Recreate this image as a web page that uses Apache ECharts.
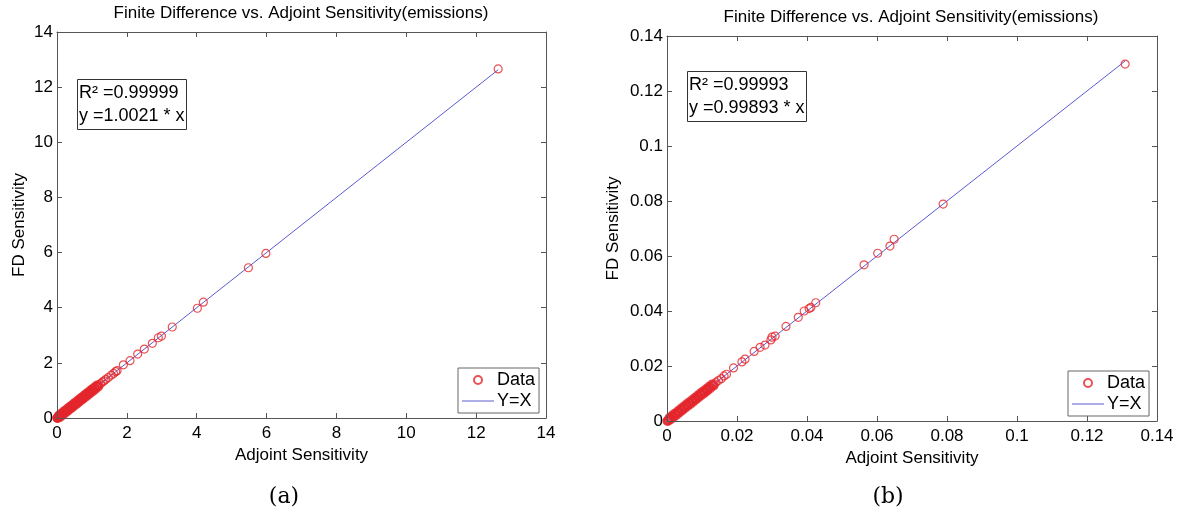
<!DOCTYPE html>
<html>
<head>
<meta charset="utf-8">
<script src="https://cdn.jsdelivr.net/npm/echarts@6/dist/echarts.min.js"></script>
<style>html,body{margin:0;padding:0;background:#fff;}#c{width:1178px;height:515px;}</style>
</head>
<body>
<div id="c"></div>
<script>
// ---- data ----
var titleText = 'Finite Difference vs. Adjoint Sensitivity(emissions)';
var xName = 'Adjoint Sensitivity';
var yName = 'FD Sensitivity';
var captions = ['(a)', '(b)'];
var fitTextA = 'R² =0.99999\ny =1.0021 * x';
var fitTextB = 'R² =0.99993\ny =0.99893 * x';

var adjA = [0, 0.005, 0.01, 0.015, 0.02, 0.03, 0.04, 0.05, 0.06, 0.07, 0.08, 0.09, 0.10, 0.12, 0.14, 0.16, 0.18, 0.20, 0.22, 0.25, 0.28, 0.30, 0.33, 0.36, 0.40, 0.43, 0.46, 0.50, 0.53, 0.56, 0.60, 0.63, 0.66, 0.70, 0.73, 0.76, 0.80, 0.83, 0.86, 0.90, 0.93, 0.96, 1.00, 1.03, 1.06, 1.10, 1.13, 1.16, 1.20, 1.25, 1.30, 1.35, 1.40, 1.47, 1.55, 1.62, 1.68, 1.72, 1.90, 2.09, 2.31, 2.50, 2.73, 2.90, 2.99, 3.30, 4.02, 4.19, 5.48, 5.98, 12.63];
var fdA  = [0, 0.004, 0.012, 0.013, 0.021, 0.028, 0.042, 0.048, 0.061, 0.068, 0.082, 0.088, 0.101, 0.118, 0.142, 0.158, 0.181, 0.198, 0.223, 0.248, 0.281, 0.298, 0.332, 0.358, 0.402, 0.428, 0.462, 0.498, 0.532, 0.558, 0.602, 0.628, 0.662, 0.698, 0.732, 0.758, 0.802, 0.828, 0.862, 0.898, 0.932, 0.958, 1.002, 1.028, 1.062, 1.098, 1.132, 1.158, 1.202, 1.248, 1.302, 1.348, 1.402, 1.468, 1.552, 1.618, 1.682, 1.718, 1.93, 2.08, 2.32, 2.50, 2.71, 2.91, 2.97, 3.30, 3.98, 4.20, 5.45, 5.97, 12.66];
// extra points in the dense cluster near the origin (slightly off the line)
var adjA2 = [0.02, 0.05, 0.08, 0.11, 0.14, 0.17, 0.2, 0.23, 0.26, 0.29, 0.32, 0.35, 0.38, 0.41, 0.44, 0.47, 0.5, 0.53, 0.56, 0.59, 0.62, 0.65, 0.68, 0.71, 0.74, 0.77, 0.8, 0.83, 0.86, 0.89, 0.92, 0.95, 0.98, 1.01, 1.04, 1.07, 1.1, 1.14, 1.18];
var fdA2  = [0.0, 0.09, 0.03, 0.15, 0.09, 0.21, 0.15, 0.27, 0.21, 0.33, 0.27, 0.39, 0.33, 0.45, 0.39, 0.51, 0.45, 0.57, 0.51, 0.63, 0.57, 0.69, 0.63, 0.75, 0.69, 0.81, 0.75, 0.87, 0.81, 0.93, 0.87, 0.99, 0.93, 1.05, 0.99, 1.11, 1.05, 1.18, 1.13];
var lineA = [0, 12.63];

var adjB = [0, 0.0002, 0.0004, 0.0006, 0.0008, 0.001, 0.0013, 0.0016, 0.002, 0.0024, 0.0028, 0.0032, 0.0036, 0.004, 0.0044, 0.0048, 0.0052, 0.0056, 0.006, 0.0064, 0.0068, 0.0072, 0.0076, 0.008, 0.0084, 0.0088, 0.0092, 0.0096, 0.010, 0.0104, 0.0108, 0.0112, 0.0116, 0.012, 0.0125, 0.013, 0.0135, 0.014, 0.0147, 0.0155, 0.0163, 0.017, 0.0190, 0.0214, 0.0223, 0.0249, 0.0266, 0.0280, 0.0297, 0.0300, 0.0309, 0.0340, 0.0375, 0.0392, 0.0406, 0.0411, 0.0425, 0.0563, 0.0602, 0.0637, 0.0649, 0.0789, 0.1309];
var fdB  = [0, 0.0003, 0.0004, 0.0005, 0.0009, 0.001, 0.0012, 0.0017, 0.002, 0.0023, 0.0029, 0.0032, 0.0035, 0.0041, 0.0044, 0.0047, 0.0053, 0.0056, 0.0059, 0.0065, 0.0068, 0.0071, 0.0077, 0.008, 0.0083, 0.0089, 0.0092, 0.0095, 0.0101, 0.0104, 0.0107, 0.0113, 0.0116, 0.0119, 0.0126, 0.013, 0.0134, 0.0141, 0.0147, 0.0154, 0.0164, 0.0170, 0.0193, 0.0215, 0.0225, 0.0253, 0.0268, 0.0276, 0.0295, 0.0305, 0.0309, 0.0344, 0.0377, 0.0400, 0.0409, 0.0413, 0.0430, 0.0568, 0.0610, 0.0636, 0.0661, 0.0789, 0.1298];
var adjB2 = [0.0003, 0.0007, 0.0011, 0.0015, 0.0019, 0.0023, 0.0027, 0.0031, 0.0035, 0.0039, 0.0043, 0.0047, 0.0051, 0.0055, 0.0059, 0.0063, 0.0067, 0.0071, 0.0075, 0.0079, 0.0083, 0.0087, 0.0091, 0.0095, 0.0099, 0.0103, 0.0107, 0.0111, 0.0115, 0.0119, 0.0123, 0.0128, 0.0133];
var fdB2  = [0.0000, 0.0012, 0.0006, 0.0020, 0.0014, 0.0028, 0.0022, 0.0036, 0.0030, 0.0044, 0.0038, 0.0052, 0.0046, 0.0060, 0.0054, 0.0068, 0.0062, 0.0076, 0.0070, 0.0084, 0.0078, 0.0092, 0.0086, 0.0100, 0.0094, 0.0108, 0.0102, 0.0116, 0.0110, 0.0124, 0.0118, 0.0133, 0.0128];
var lineB = [0, 0.1309];

var axisMaxA = 14, axisStepA = 2;
var axisMaxB = 0.14, axisStepB = 0.02;

// ---- chart ----
var FONT = 'Liberation Sans';
var AX = '#555';
function pairs(xs, ys) { return xs.map(function (x, i) { return [x, ys[i]]; }); }

function mainAxis(gi, pos, max, step, name, gap) {
  return {
    type: 'value', gridIndex: gi, position: pos, min: 0, max: max, interval: step,
    name: name, nameLocation: 'middle', nameGap: gap,
    nameTextStyle: { color: '#000', fontSize: 17, fontFamily: FONT },
    axisLine: { show: true, onZero: false, lineStyle: { color: AX, width: 1 } },
    axisTick: { show: true, inside: true, length: 5, lineStyle: { color: AX } },
    axisLabel: { color: '#000', fontSize: 17, fontFamily: FONT, margin: pos === 'bottom' ? 7 : 4,
      formatter: function (v) { return String(+v.toFixed(4)); } },
    splitLine: { show: false }, z: 5
  };
}
function boxAxis(gi, pos, max, step) {
  return {
    type: 'value', gridIndex: gi, position: pos, min: 0, max: max, interval: step,
    axisLine: { show: true, onZero: false, lineStyle: { color: AX, width: 1 } },
    axisTick: { show: true, inside: true, length: 5, lineStyle: { color: AX } },
    axisLabel: { show: false }, splitLine: { show: false }
  };
}

var lineStyle = { color: '#5a5ad0', width: 1 };

function legendAt(left, top) {
  return {
    left: left, top: top, orient: 'vertical',
    data: [{ name: 'Data', icon: 'circle' }, { name: 'Y=X', icon: 'path://M0,0 L32,0 L32,1 L0,1 Z' }],
    borderColor: '#666', borderWidth: 1, padding: [3, 4, 3, 4], itemGap: 3,
    itemWidth: 32, itemHeight: 8, selectedMode: false,
    textStyle: { color: '#000', fontSize: 18, fontFamily: FONT, padding: [0, 0, 0, -2] },
    backgroundColor: '#fff', z: 10
  };
}
function fitBox(text, left, top) {
  return {
    text: text, left: left, top: top, borderColor: '#333', borderWidth: 1,
    padding: [3, 2, 2, 2],
    textStyle: { fontSize: 18, fontWeight: 'normal', fontFamily: FONT, color: '#000', lineHeight: 23 }
  };
}

function scatter(xi, xs, ys, bw) {
  return { name: 'Data', type: 'scatter', xAxisIndex: xi, yAxisIndex: xi, symbol: 'circle', symbolSize: 8,
    itemStyle: { color: 'rgba(0,0,0,0)', borderColor: '#e4262c', borderWidth: bw }, data: pairs(xs, ys), z: 3 };
}
function refLine(xi, vs) {
  return { name: 'Y=X', type: 'line', xAxisIndex: xi, yAxisIndex: xi, symbol: 'none', lineStyle: lineStyle,
    itemStyle: { color: lineStyle.color }, data: pairs(vs, vs), z: 2 };
}

var option = {
  backgroundColor: '#fff',
  animation: false,
  title: [fitBox(fitTextA, 77, 79), fitBox(fitTextB, 687, 71)],
  legend: [legendAt(458, 368), legendAt(1068, 371)],
  grid: [
    { left: 57, top: 32, width: 489, height: 386 },
    { left: 667, top: 36, width: 490, height: 385 }
  ],
  xAxis: [
    mainAxis(0, 'bottom', axisMaxA, axisStepA, xName, 25),
    mainAxis(1, 'bottom', axisMaxB, axisStepB, xName, 25),
    boxAxis(0, 'top', axisMaxA, axisStepA),
    boxAxis(1, 'top', axisMaxB, axisStepB)
  ],
  yAxis: [
    mainAxis(0, 'left', axisMaxA, axisStepA, yName, 29),
    mainAxis(1, 'left', axisMaxB, axisStepB, yName, 45),
    boxAxis(0, 'right', axisMaxA, axisStepA),
    boxAxis(1, 'right', axisMaxB, axisStepB)
  ],
  series: [
    refLine(0, lineA), scatter(0, adjA, fdA, 1.2), scatter(0, adjA2, fdA2, 1.8),
    refLine(1, lineB), scatter(1, adjB, fdB, 1.2), scatter(1, adjB2, fdB2, 1.8)
  ],
  graphic: [
    { type: 'text', x: 301, y: 13, style: { text: titleText, font: '17px "Liberation Sans"', fill: '#000', textAlign: 'center', textVerticalAlign: 'middle' } },
    { type: 'text', x: 911, y: 17, style: { text: titleText, font: '17px "Liberation Sans"', fill: '#000', textAlign: 'center', textVerticalAlign: 'middle' } },
    { type: 'text', x: 284, y: 497, style: { text: captions[0], font: '22px "DejaVu Serif"', fill: '#000', textAlign: 'center', textVerticalAlign: 'middle' } },
    { type: 'text', x: 888, y: 497, style: { text: captions[1], font: '22px "DejaVu Serif"', fill: '#000', textAlign: 'center', textVerticalAlign: 'middle' } }
  ]
};
var chart = echarts.init(document.getElementById('c'), null, { renderer: 'canvas' });
chart.setOption(option);
</script>
</body>
</html>
